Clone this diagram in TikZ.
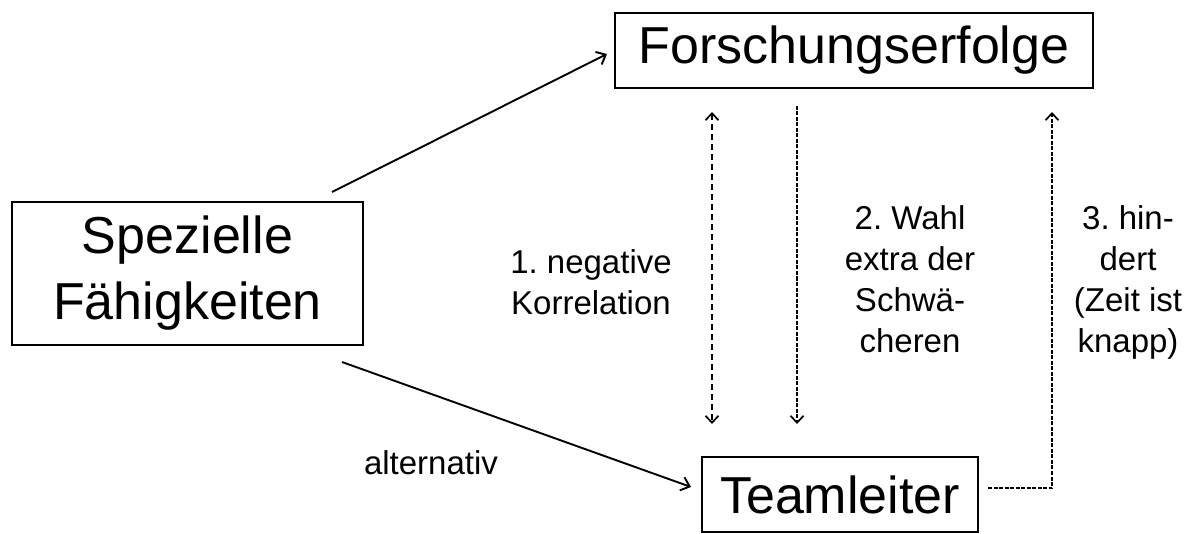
\documentclass[tikz,border=0pt]{standalone}
\usepackage{fontspec}
\setmainfont{Liberation Sans}
\usetikzlibrary{arrows.meta}
\frenchspacing
\begin{document}
\begin{tikzpicture}[x=1bp,y=-1bp,
  box/.style={draw, line width=2.8bp, inner sep=0pt, align=center,
    font=\fontsize{52bp}{66bp}\selectfont},
  lbl/.style={inner sep=0pt, align=center, font=\fontsize{33bp}{41bp}\selectfont},
  barb/.tip={Straight Barb[length=7bp,width=13bp,line width=1.7bp]},
  bigbarb/.tip={Straight Barb[length=8bp,width=14bp,line width=1.9bp]},
  solidarrow/.style={line width=1.9bp, -bigbarb},
  loosedash/.style={line width=1.7bp, dash pattern=on 6bp off 4bp},
  densedash/.style={line width=1.7bp, dash pattern=on 4bp off 1.5bp}
]
\useasboundingbox (0,0) rectangle (1197,534);

% boxes
\node[box, minimum width=478bp, minimum height=75bp] (forsch) at (854,50.5) {Forschungserfolge};
\node[box, minimum width=351bp, minimum height=143bp] (spez) at (187.5,273.5) {Spezielle\\Fähigkeiten};
\node[box, minimum width=276bp, minimum height=75bp] (team) at (840,494.5) {Teamleiter};

% labels
\node[lbl] (l1) at (591,282) {1. negative\\Korrelation};
\node[lbl] (l2) at (910,279) {2. Wahl\\extra der\\Schwä-\\cheren};
\node[lbl] (l3) at (1128,282) {3. hin-\\dert\\(Zeit ist\\knapp)};
\node[lbl] (alt) at (431,463) {alternativ};

% connector end points
\coordinate (a1s) at (332,192);
\coordinate (a1e) at (607,54);
\coordinate (a2s) at (342,362);
\coordinate (a2e) at (691,487);
\coordinate (d1t) at (712,112);
\coordinate (d1b) at (712,424);
\coordinate (d2t) at (797,106);
\coordinate (d2b) at (797,424);
\coordinate (d3s) at (988,488);
\coordinate (d3c) at (1052,488);
\coordinate (d3e) at (1052,112);

% solid arrows
\draw[solidarrow] (a1s) -- (a1e);
\draw[solidarrow] (a2s) -- (a2e);

% dashed arrows
\draw[loosedash, barb-barb] (d1t) -- (d1b);
\draw[densedash, -barb] (d2t) -- (d2b);
\draw[densedash, -barb] (d3s) -- (d3c) -- (d3e);
\end{tikzpicture}
\end{document}
